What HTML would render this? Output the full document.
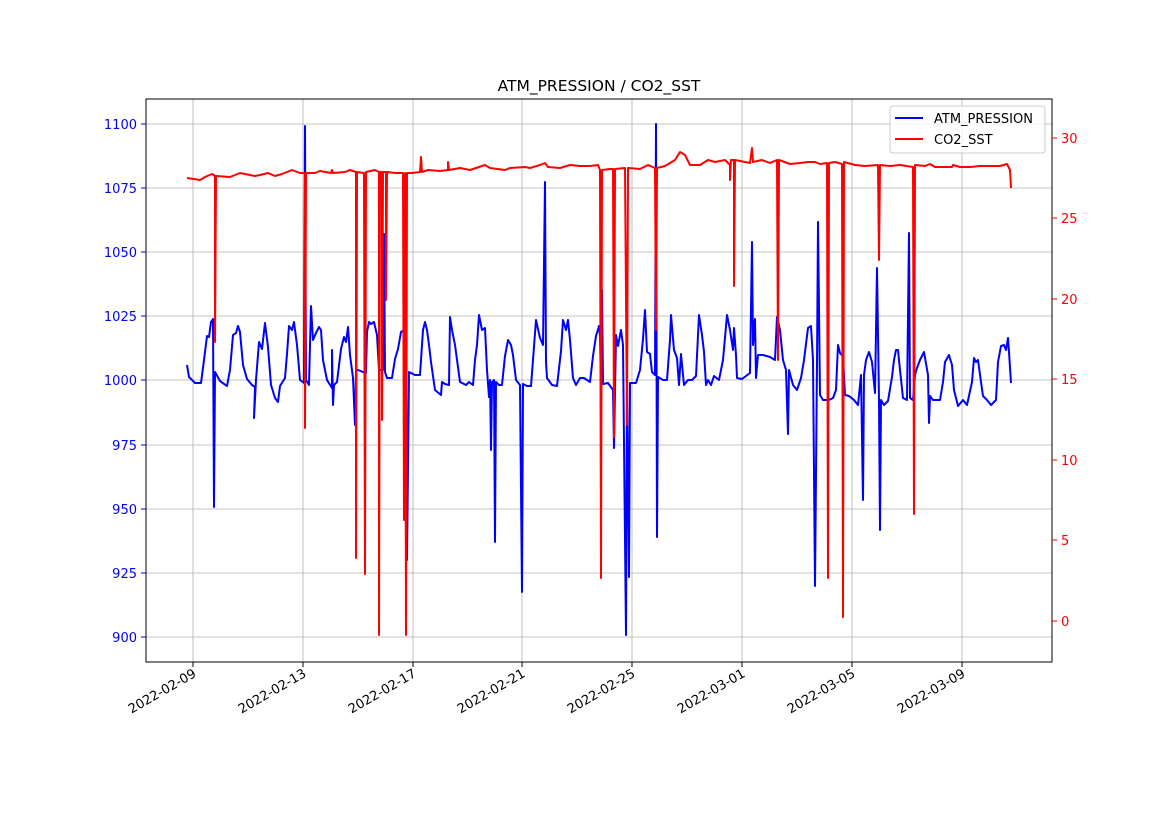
<!DOCTYPE html>
<html><head><style>body{margin:0;background:#fff}svg{display:block;font-family:"DejaVu Sans","Liberation Sans",sans-serif}</style></head>
<body>
<svg width="1169" height="827" xmlns="http://www.w3.org/2000/svg">
<rect width="1169" height="827" fill="#fff"/>
<g stroke="#b0b0b0" stroke-width="0.8">
<line x1="193" y1="99" x2="193" y2="662"/><line x1="303" y1="99" x2="303" y2="662"/><line x1="413" y1="99" x2="413" y2="662"/><line x1="522" y1="99" x2="522" y2="662"/><line x1="632" y1="99" x2="632" y2="662"/><line x1="742" y1="99" x2="742" y2="662"/><line x1="852" y1="99" x2="852" y2="662"/><line x1="962" y1="99" x2="962" y2="662"/>
<line x1="146" y1="124" x2="1052" y2="124"/><line x1="146" y1="188" x2="1052" y2="188"/><line x1="146" y1="252" x2="1052" y2="252"/><line x1="146" y1="316" x2="1052" y2="316"/><line x1="146" y1="380" x2="1052" y2="380"/><line x1="146" y1="445" x2="1052" y2="445"/><line x1="146" y1="509" x2="1052" y2="509"/><line x1="146" y1="573" x2="1052" y2="573"/><line x1="146" y1="637" x2="1052" y2="637"/>
</g>
<polyline fill="none" stroke="#0000ff" stroke-width="2" stroke-linejoin="round" points="187,365 189,377 195,383 201,383 204,360 207,336 209,337 211,322 213,319 214,507 215,372 220,381 227,386 230,370 233,335 236,333 238,326 240,332 243,365 247,379 252,385 255,387 254,418 256,380 259,342 262,349 265,323 268,347 271,385 275,398 278,402 280,386 285,378 287,354 289,326 292,330 294,322 297,345 300,380 304,383 305,126 306,380 309,385 311,306 313,340 316,333 319,327 321,330 323,360 327,380 332,388 332,350 333,405 334,385 337,382 341,349 344,337 346,342 348,327 350,355 353,378 355,425 356,370 358,370 363,372 366,373 367,332 369,322 371,324 374,322 377,335 379,370 383,370 384,234 385,372 387,378 392,378 395,359 398,349 401,332 404,330 405,485 406,380 407,560 409,372 415,375 420,375 423,330 425,322 427,330 429,345 431,362 435,390 441,395 442,382 445,384 449,385 450,317 452,330 455,345 460,382 466,385 469,382 473,385 475,360 477,345 479,315 482,330 485,328 487,370 489,397 490,380 491,450 492,382 494,380 495,542 496,382 499,385 502,385 505,356 508,340 511,345 513,355 516,380 520,385 522,592 523,384 527,386 531,386 533,360 536,320 540,338 543,345 545,182 546,362 547,378 552,385 557,386 561,351 563,320 566,330 568,320 570,340 573,378 576,385 580,378 584,378 590,382 593,356 596,336 599,326 600,336 601,390 602,290 603,384 608,383 613,390 614,448 616,335 618,346 621,330 623,345 626,635 627,380 629,577 630,383 636,383 640,370 643,339 645,310 647,352 650,354 652,372 655,375 656,124 657,537 658,377 663,380 667,380 670,340 671,315 674,350 677,358 679,385 681,354 684,385 688,380 692,380 696,376 699,315 702,335 704,352 706,385 708,380 711,385 714,376 719,380 723,360 727,315 730,330 733,350 734,328 736,355 737,378 742,379 746,376 750,373 752,242 753,345 755,319 756,378 758,355 763,355 770,357 775,360 777,317 780,330 783,360 786,370 788,434 789,370 793,385 797,390 801,378 804,360 808,328 811,326 813,360 815,586 817,363 818,222 820,395 823,400 829,400 833,398 836,390 838,345 840,353 843,356 845,395 849,396 854,400 858,405 861,375 863,500 864,375 866,360 869,352 872,362 875,393 877,268 879,400 880,530 881,400 884,405 888,401 892,377 894,360 896,350 898,350 900,370 903,398 907,400 909,233 910,398 913,400 915,375 917,368 920,360 924,352 928,375 929,423 930,396 933,400 940,400 943,382 945,362 949,355 952,365 954,390 958,406 963,400 967,405 972,382 974,358 976,362 978,360 981,382 983,396 987,400 991,405 996,400 998,362 1001,346 1004,345 1006,350 1008,338 1009,352 1011,383"/>
<polyline fill="none" stroke="#ff0000" stroke-width="2" stroke-linejoin="round" points="187,178 200,180 205,177 212,174 215,176 215,342 216,176 230,177 240,173 255,176 260,175 268,173 275,176 282,174 292,170 300,173 305,173 305,428 306,173 315,173 320,171 331,173 332,170 333,173 345,172 350,170 356,172 356,558 357,172 364,173 365,574 366,172 375,170 379,172 379,635 380,172 382,172 382,420 383,172 386,172 386,300 387,172 395,173 403,173 404,520 405,173 406,635 407,173 412,173 420,172 421,157 422,172 428,170 440,171 448,170 448,162 449,170 460,168 470,170 485,165 490,168 505,170 510,168 525,167 530,168 540,165 545,163 548,167 560,168 570,165 580,166 590,166 598,165 600,170 601,578 602,170 610,169 613,169 614,437 615,169 625,168 627,425 628,168 640,169 648,165 655,168 656,330 657,168 665,166 675,160 680,152 685,155 690,165 700,165 708,160 715,162 725,160 730,165 730,180 731,160 734,160 734,286 735,160 745,162 750,163 752,148 753,162 762,160 770,163 777,160 778,360 779,160 790,164 800,163 808,162 815,162 820,164 827,163 828,578 829,163 835,162 842,164 843,617 844,162 855,165 865,166 878,165 879,260 880,165 890,166 900,165 913,167 914,514 915,165 925,166 930,164 935,167 945,167 952,167 953,165 960,167 970,167 980,166 1000,166 1007,164 1010,170 1011,188"/>
<rect x="146" y="99" width="906" height="563" fill="none" stroke="#000" stroke-width="1"/>
<g stroke="#000"><line x1="193" y1="662" x2="193" y2="667"/><line x1="303" y1="662" x2="303" y2="667"/><line x1="413" y1="662" x2="413" y2="667"/><line x1="522" y1="662" x2="522" y2="667"/><line x1="632" y1="662" x2="632" y2="667"/><line x1="742" y1="662" x2="742" y2="667"/><line x1="852" y1="662" x2="852" y2="667"/><line x1="962" y1="662" x2="962" y2="667"/></g>
<g stroke="#0000ff"><line x1="141" y1="124" x2="146" y2="124"/><line x1="141" y1="188" x2="146" y2="188"/><line x1="141" y1="252" x2="146" y2="252"/><line x1="141" y1="316" x2="146" y2="316"/><line x1="141" y1="380" x2="146" y2="380"/><line x1="141" y1="445" x2="146" y2="445"/><line x1="141" y1="509" x2="146" y2="509"/><line x1="141" y1="573" x2="146" y2="573"/><line x1="141" y1="637" x2="146" y2="637"/></g>
<g stroke="#ff0000"><line x1="1052" y1="138" x2="1057" y2="138"/><line x1="1052" y1="218" x2="1057" y2="218"/><line x1="1052" y1="299" x2="1057" y2="299"/><line x1="1052" y1="379" x2="1057" y2="379"/><line x1="1052" y1="460" x2="1057" y2="460"/><line x1="1052" y1="540" x2="1057" y2="540"/><line x1="1052" y1="621" x2="1057" y2="621"/></g>
<g font-size="13" fill="#0000ff" text-anchor="end">
<text x="137" y="129">1100</text><text x="137" y="193">1075</text><text x="137" y="257">1050</text><text x="137" y="321">1025</text><text x="137" y="385">1000</text><text x="137" y="450">975</text><text x="137" y="514">950</text><text x="137" y="578">925</text><text x="137" y="642">900</text></g>
<g font-size="13" fill="#ff0000">
<text x="1061" y="143">30</text><text x="1061" y="223">25</text><text x="1061" y="304">20</text><text x="1061" y="384">15</text><text x="1061" y="465">10</text><text x="1061" y="545">5</text><text x="1061" y="626">0</text></g>
<g font-size="13" fill="#000" text-anchor="end">
<text transform="translate(197,676) rotate(-30)">2022-02-09</text><text transform="translate(307,676) rotate(-30)">2022-02-13</text><text transform="translate(417,676) rotate(-30)">2022-02-17</text><text transform="translate(526,676) rotate(-30)">2022-02-21</text><text transform="translate(636,676) rotate(-30)">2022-02-25</text><text transform="translate(746,676) rotate(-30)">2022-03-01</text><text transform="translate(856,676) rotate(-30)">2022-03-05</text><text transform="translate(966,676) rotate(-30)">2022-03-09</text></g>
<text x="599" y="91" font-size="15.5" text-anchor="middle">ATM_PRESSION / CO2_SST</text>
<rect x="890" y="106" width="155" height="47" rx="3" fill="#fff" fill-opacity="0.8" stroke="#ccc"/>
<line x1="895" y1="118" x2="923" y2="118" stroke="#0000ff" stroke-width="2"/>
<line x1="895" y1="139" x2="923" y2="139" stroke="#ff0000" stroke-width="2"/>
<text x="934" y="123" font-size="13">ATM_PRESSION</text>
<text x="934" y="144" font-size="13">CO2_SST</text>
</svg>
</body></html>
